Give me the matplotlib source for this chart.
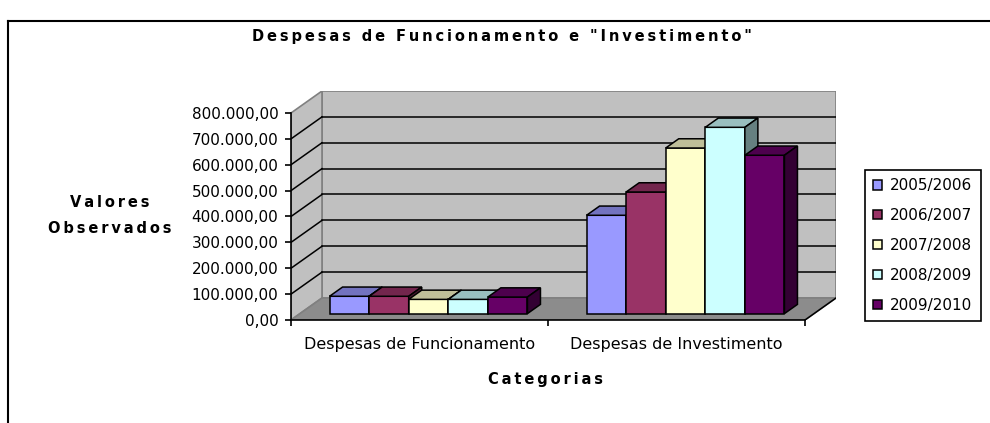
import matplotlib
matplotlib.use("Agg")
import matplotlib.pyplot as plt
from matplotlib.patches import Polygon, Patch
from matplotlib.lines import Line2D
import numpy as np

# data
categorias = ["Despesas de Funcionamento", "Despesas de Investimento"]
anos = ["2005/2006", "2006/2007", "2007/2008", "2008/2009", "2009/2010"]
funcionamento = [67000, 67000, 55000, 55000, 64000]
investimento = [380000, 470000, 640000, 720000, 612000]
y_ticks = [0, 100000, 200000, 300000, 400000, 500000, 600000, 700000, 800000]
y_tick_labels = ["0,00", "100.000,00", "200.000,00", "300.000,00", "400.000,00",
                 "500.000,00", "600.000,00", "700.000,00", "800.000,00"]
cores = ["#9999FF", "#993366", "#FFFFCC", "#CCFFFF", "#660066"]

valores = [funcionamento, investimento]

W, H = 990, 423
fig = plt.figure(figsize=(W / 100, H / 100), dpi=100)

# fake 3d: depth offset of the back wall in data units
YMAX = 800000
DX = 545 / 257 - 2        # x shift of back wall (category units)
DY = 22 / 207 * YMAX      # y shift of back wall (value units)
Z0, Z1 = 0.29, 0.71       # bar depth range
BW = 0.154                # bar width
GAP = 1 - 5 * BW

# axes box in pixels: front-left x=291, back-right x=836, floor y=320, wall top y=91
ax = fig.add_axes([291 / W, (H - 320) / H, 545 / W, 229 / H])
ax.set_xlim(0, 2 + DX)
ax.set_ylim(0, YMAX + DY)
ax.set_facecolor("none")

wall = "#C0C0C0"
edge = "#808080"

# back wall, side wall, floor
ax.add_patch(Polygon([(DX, DY), (2 + DX, DY), (2 + DX, YMAX + DY), (DX, YMAX + DY)],
                     closed=True, facecolor=wall, edgecolor=edge, lw=1.2, zorder=1))
ax.add_patch(Polygon([(0, 0), (DX, DY), (DX, YMAX + DY), (0, YMAX)],
                     closed=True, facecolor=wall, edgecolor=edge, lw=1.2, zorder=1))
ax.add_patch(Polygon([(0, 0), (2, 0), (2 + DX, DY), (DX, DY)],
                     closed=True, facecolor="#8C8C8C", edgecolor=edge, lw=1.2, zorder=1))
ax.plot([2, 2 + DX], [0, DY], color="black", lw=1.1, zorder=1.5)

# gridlines on walls
for v in y_ticks[1:-1]:
    ax.plot([DX, 2 + DX], [v + DY, v + DY], color="black", lw=1.1, zorder=1.5)
    ax.plot([0, DX], [v, v + DY], color="black", lw=1.1, zorder=1.5)


def shade(c, f):
    rgb = np.array(matplotlib.colors.to_rgb(c))
    return tuple(rgb * f)


dz = Z1 - Z0
z = 3
for i, serie in enumerate(valores):
    for j, v in enumerate(serie):
        xl = i + GAP / 2 + j * BW + Z0 * DX
        b = Z0 * DY
        ax.bar(xl, v, width=BW, bottom=b, align="edge", color=cores[j],
               edgecolor="black", lw=1.1, zorder=z)
        top = [(xl, b + v), (xl + BW, b + v), (xl + BW + dz * DX, b + v + dz * DY),
               (xl + dz * DX, b + v + dz * DY)]
        ax.add_patch(Polygon(top, closed=True, facecolor=shade(cores[j], 0.75),
                             edgecolor="black", lw=1.1, zorder=z))
        side = [(xl + BW, b), (xl + BW + dz * DX, b + dz * DY),
                (xl + BW + dz * DX, b + v + dz * DY), (xl + BW, b + v)]
        ax.add_patch(Polygon(side, closed=True, facecolor=shade(cores[j], 0.5),
                             edgecolor="black", lw=1.1, zorder=z))
        z += 1

# axes lines and ticks
for s in ["top", "right"]:
    ax.spines[s].set_visible(False)
ax.spines["left"].set_bounds(0, YMAX)
ax.spines["bottom"].set_bounds(0, 2)
ax.spines["left"].set_linewidth(1.2)
ax.spines["bottom"].set_linewidth(1.2)
ax.spines["left"].set_zorder(20)
ax.spines["bottom"].set_zorder(20)

ax.set_yticks(y_ticks)
ax.set_yticklabels(y_tick_labels)
ax.tick_params(axis="y", direction="out", length=4, width=1.2, pad=5,
               labelsize=11, colors="black")
ax.set_xticks([0.5, 1.5])
ax.set_xticklabels(categorias)
ax.set_xticks([0, 1, 2], minor=True)
ax.tick_params(axis="x", which="major", length=0, pad=12, labelsize=11.5)
ax.tick_params(axis="x", which="minor", direction="out", length=4.5, width=1.2)


def spaced(s):
    return "\u2009".join(s)


fig.text(502 / W, 1 - 37 / H, spaced('Despesas de Funcionamento e "Investimento"'),
         ha="center", va="center", fontsize=10.5, fontweight="bold")
fig.text(110 / W, 1 - 202 / H, spaced("Valores"), ha="center", va="center",
         fontsize=10.5, fontweight="bold")
fig.text(110 / W, 1 - 228 / H, spaced("Observados"), ha="center", va="center",
         fontsize=10.5, fontweight="bold")
fig.text(545 / W, 1 - 379 / H, spaced("Categorias"), ha="center", va="center",
         fontsize=10.5, fontweight="bold")

# legend
handles = [Patch(facecolor=c, edgecolor="black", lw=1.1) for c in cores]
leg = fig.legend(handles, anos, loc="upper left", bbox_to_anchor=(865 / W, 1 - 170 / H),
                 fontsize=11, frameon=True, fancybox=False, framealpha=1,
                 edgecolor="black", handlelength=0.55, handleheight=0.55,
                 handletextpad=0.55, labelspacing=0.97, borderpad=0.55,
                 borderaxespad=0)
leg.get_frame().set_linewidth(1.2)

# outer chart frame
fig.add_artist(Line2D([8 / W, 8 / W], [0, 1 - 21 / H], color="black", lw=1.5,
                      transform=fig.transFigure))
fig.add_artist(Line2D([8 / W, 1], [1 - 21 / H, 1 - 21 / H], color="black", lw=1.5,
                      transform=fig.transFigure))

fig.savefig("out.png", dpi=100)
